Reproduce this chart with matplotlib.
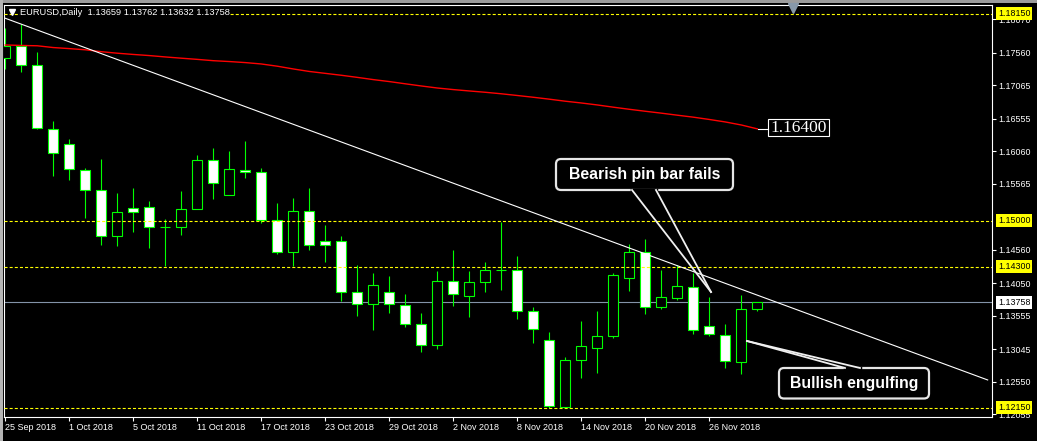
import matplotlib
matplotlib.use('Agg')
import matplotlib.pyplot as plt
import matplotlib.transforms as mtransforms
from matplotlib.patches import FancyBboxPatch, Rectangle
from matplotlib.lines import Line2D
import numpy as np

plt.rcParams['font.family'] = ['Liberation Sans', 'DejaVu Sans']
plt.rcParams['lines.scale_dashes'] = False

# ---------------------------------------------
# DATA (EURUSD daily)
# ---------------------------------------------
opens = [1.17475, 1.17662, 1.17368, 1.16394, 1.16165, 1.15769, 1.15465, 1.14764,
         1.15191, 1.15206, 1.14901, 1.14901, 1.15175, 1.15921, 1.15389, 1.15778,
         1.15739, 1.15008, 1.14521, 1.15145, 1.14688, 1.14688, 1.13911, 1.13729,
         1.13911, 1.13713, 1.13424, 1.13104, 1.14079, 1.13850, 1.14064, 1.14246,
         1.14246, 1.13622, 1.13180, 1.12160, 1.12876, 1.13059, 1.13241, 1.14125,
         1.14521, 1.13683, 1.13820, 1.13988, 1.13394, 1.13257, 1.12845, 1.13659]
highs = [1.17936, 1.17992, 1.17566, 1.16520, 1.16246, 1.15800, 1.15941, 1.15424,
         1.15500, 1.15302, 1.15028, 1.15454, 1.16002, 1.16104, 1.16063, 1.16215,
         1.15800, 1.15267, 1.15343, 1.15495, 1.14932, 1.14764, 1.14327, 1.14205,
         1.14155, 1.13886, 1.13592, 1.14231, 1.14556, 1.14231, 1.14373, 1.14987,
         1.14464, 1.13683, 1.13302, 1.12926, 1.13474, 1.13627, 1.14201, 1.14642,
         1.14718, 1.14246, 1.14323, 1.14201, 1.13835, 1.13433, 1.13866, 1.13762]
lows = [1.17307, 1.17262, 1.16398, 1.15687, 1.15621, 1.15047, 1.14632, 1.14621,
        1.14834, 1.14591, 1.14316, 1.14789, 1.15175, 1.15337, 1.15389, 1.15657,
        1.14962, 1.14490, 1.14316, 1.14551, 1.14377, 1.13783, 1.13555, 1.13342,
        1.13601, 1.13388, 1.13007, 1.13053, 1.13707, 1.13540, 1.13911, 1.13942,
        1.13509, 1.13144, 1.12145, 1.12160, 1.12611, 1.12687, 1.13211, 1.13927,
        1.13573, 1.13652, 1.13790, 1.13272, 1.13241, 1.12763, 1.12663, 1.13632]
closes = [1.17662, 1.17368, 1.16409, 1.16028, 1.15784, 1.15465, 1.14764, 1.15130,
          1.15130, 1.14901, 1.14901, 1.15175, 1.15921, 1.15571, 1.15784, 1.15739,
          1.15008, 1.14521, 1.15145, 1.14627, 1.14627, 1.13911, 1.13729, 1.14018,
          1.13729, 1.13424, 1.13104, 1.14079, 1.13881, 1.14064, 1.14246, 1.14246,
          1.13622, 1.13348, 1.12175, 1.12876, 1.13089, 1.13241, 1.14170, 1.14521,
          1.13683, 1.13835, 1.14003, 1.13333, 1.13276, 1.12861, 1.13652, 1.13758]
# moving average (red line)
ma = [1.17677, 1.17670, 1.17665, 1.17638, 1.17622, 1.17604, 1.17575, 1.17552,
      1.17533, 1.17516, 1.17495, 1.17476, 1.17458, 1.17438, 1.17425, 1.17409,
      1.17388, 1.17354, 1.17312, 1.17274, 1.17245, 1.17216, 1.17184, 1.17150,
      1.17120, 1.17086, 1.17053, 1.17022, 1.16998, 1.16977, 1.16957, 1.16934,
      1.16908, 1.16881, 1.16852, 1.16821, 1.16794, 1.16764, 1.16730, 1.16698,
      1.16668, 1.16639, 1.16608, 1.16578, 1.16543, 1.16505, 1.16459, 1.16400]

date_idx = [0, 4, 8, 12, 16, 20, 24, 28, 32, 36, 40, 44]
date_labels = ['25 Sep 2018', '1 Oct 2018', '5 Oct 2018', '11 Oct 2018', '17 Oct 2018',
               '23 Oct 2018', '29 Oct 2018', '2 Nov 2018', '8 Nov 2018', '14 Nov 2018',
               '20 Nov 2018', '26 Nov 2018']
price_ticks = [1.18070, 1.17560, 1.17065, 1.16555, 1.16060, 1.15565,
               1.14560, 1.14050, 1.13555, 1.13045, 1.12550, 1.12055]

trend_x = [0, 61.4]
trend_y = [1.18084, 1.12576]
levels = [1.18150, 1.15000, 1.14300, 1.12150]
bid = 1.13758
ma_value = 1.16400
title = 'EURUSD,Daily  1.13659 1.13762 1.13632 1.13758'

# ---------------------------------------------
# FIGURE
# ---------------------------------------------
W, H = 1037, 441
fig = plt.figure(figsize=(W / 100, H / 100), dpi=100, facecolor='black')
# pixel coordinates, origin top-left
PX = mtransforms.Affine2D().scale(1 / W, -1 / H).translate(0, 1) + fig.transFigure

ax = fig.add_axes([4 / W, 1 - 417 / H, 988 / W, 412 / H])
ax.set_facecolor('black')
ax.set_xlim(-0.08, 61.67)
ax.set_ylim(1.12012, 1.18286)

x = np.arange(len(opens))
o = np.array(opens)
c = np.array(closes)
green = '#00ff00'

# bid line (behind candles)
ax.axhline(bid, color='#8393a8', lw=0.8, zorder=1)

# candles
ax.vlines(x, lows, highs, color=green, lw=0.8, zorder=2)
body_h = np.maximum(np.abs(c - o), 1e-6)
body_fc = np.where(c > o, 'black', 'white')
ax.bar(x, body_h, bottom=np.minimum(o, c), width=0.62, color=body_fc,
       edgecolor=green, linewidth=0.8, zorder=3)

# horizontal levels
for lv in levels:
    ax.axhline(lv, color='#ffff00', lw=0.8, dashes=(2.2, 1.5), zorder=4)

# moving average and trendline
ax.plot(x, ma, color='#ff0000', lw=1.0, zorder=5)
ax.plot(trend_x, trend_y, color='white', lw=0.8, zorder=5)

# axes styling
for sp in ax.spines.values():
    sp.set_color('white')
    sp.set_linewidth(0.8)
ax.yaxis.tick_right()
ax.set_yticks(price_ticks, labels=['%.5f' % v for v in price_ticks])
ax.set_xticks(date_idx, labels=date_labels)
for lbl in ax.get_xticklabels():
    lbl.set_ha('left')
ax.tick_params(axis='y', colors='white', length=3, width=0.8, pad=1.5, labelsize=6.4)
ax.tick_params(axis='x', colors='white', length=3, width=0.8, pad=1.5, labelsize=6.5)

# price labels on the right axis
blend = mtransforms.blended_transform_factory(ax.transAxes, ax.transData)
for lv in levels:
    ax.text(1 + 6 / 988, lv, '%.5f' % lv, transform=blend, ha='left', va='center',
            fontsize=6.4, color='black', clip_on=False, zorder=6,
            bbox=dict(boxstyle='square,pad=0.22', fc='#ffff00', ec='none'))
ax.text(1 + 6 / 988, bid, '%.5f' % bid, transform=blend, ha='left', va='center',
        fontsize=6.4, color='black', clip_on=False, zorder=6,
        bbox=dict(boxstyle='square,pad=0.22', fc='white', ec='none'))

# MA value label
fig.add_artist(Line2D([758, 768], [129, 129], color='white', lw=0.8, transform=PX))
fig.add_artist(Rectangle((768, 119), 61, 17, fc='black', ec='white', lw=0.8, transform=PX))
fig.text(798.5, 128, '%.5f' % ma_value, transform=PX, ha='center', va='center',
         color='white', fontsize=12.5, family='Liberation Serif')

# title
fig.add_artist(Line2D([12], [12], marker='v', color='white', ms=4.5, transform=PX))
fig.text(20, 12.7, title, transform=PX, ha='left', va='center', color='white',
         fontsize=6.7, bbox=dict(boxstyle='square,pad=0.05', fc='black', ec='none'))

# shift marker and window frame
fig.add_artist(Line2D([793], [8], marker='v', color='#8899aa', ms=7, transform=PX))
fig.add_artist(Rectangle((0, 0), W, 2.5, fc='#9c9c9c', ec='none', transform=PX))
fig.add_artist(Rectangle((0, 0), 2.5, H, fc='#b4b4b4', ec='none', transform=PX))


# callouts
def callout(box, text, gap, tip):
    x0, y0, w, h = box
    fig.add_artist(FancyBboxPatch((x0, y0), w, h, boxstyle='round,pad=0,rounding_size=5',
                                  fc='black', ec='#e6e6e6', lw=1.6, transform=PX))
    fig.text(x0 + w / 2, y0 + h / 2, text, transform=PX, ha='center', va='center',
             color='white', fontsize=11.4, fontweight='bold')
    fig.add_artist(Line2D([gap[0][0], gap[1][0]], [gap[0][1], gap[1][1]],
                          color='black', lw=2.5, transform=PX))
    for gx, gy in gap:
        fig.add_artist(Line2D([gx, tip[0]], [gy, tip[1]], color='#f0f0f0', lw=1.3,
                              transform=PX))


callout((556, 159, 177, 31), 'Bearish pin bar fails', [(632, 190), (656, 190)], (711, 292))
callout((779, 368, 150, 30.5), 'Bullish engulfing', [(845, 368), (860, 368)], (747, 341))

fig.savefig('out.png', dpi=100, facecolor='black')
